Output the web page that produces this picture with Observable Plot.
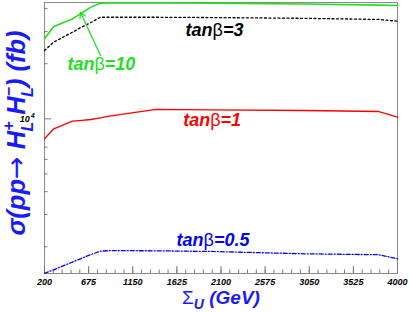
<!DOCTYPE html>
<html><head><meta charset="utf-8">
<script src="https://cdn.jsdelivr.net/npm/d3@7"></script>
<script src="https://cdn.jsdelivr.net/npm/@observablehq/plot@0.6"></script>
<style>body{margin:0;background:#fff} svg{display:block}</style>
</head><body><div id="chart"></div>
<script>
// Σ_U values (GeV)
const sigmaU = [200, 300, 500, 600, 700, 800, 900, 1400, 2000, 3000, 3800, 4000];
// cross sections (fb)
const tb10 = [27350, 31900, 35150, 37770, 40760, 42850, 42900, 42900, 42800, 42400, 41800, 41580];
const tb3  = [23600, 26250, 29720, 31700, 33600, 35880, 35880, 35880, 35750, 35400, 34900, 34140];
const tb1  = [7780, 8818, 9703, 9810, 9912, 10120, 10330, 11260, 11200, 11100, 10960, 10200];
const tb05 = [1432, 1496, 1649, 1730, 1812, 1890, 1905, 1900, 1884, 1830, 1808, 1718];

const seriesNames = ["tanβ=10", "tanβ=3", "tanβ=1", "tanβ=0.5"];
const seriesColors = ["#1fe01f", "#000000", "#ff0000", "#0000ff"];
const seriesDash = [null, "2,2.5", null, "4,2,1,2"];

// label anchor points (data coords)
const labelX = [813, 2030, 2005, 2014];
const labelY = [19930, 30380, 9790, 2163];
// arrow for tanβ=10 label
const arrowFrom = [803, 22180];
const arrowTo = [588, 38100];

const xMajorTicks = [200, 675, 1150, 1625, 2100, 2575, 3050, 3525, 4000];
const xMinorTicks = d3.range(200, 4001, 95);
const yMinorTicks = [2000, 3000, 4000, 5000, 6000, 7000, 20000, 30000, 40000];
const yMajorTicks = [10000];

const allSeries = [tb10, tb3, tb1, tb05];
const font = "'Liberation Sans', Arial, Helvetica, sans-serif";

const lineMarks = allSeries.map((vals, k) => Plot.line(
  sigmaU.map((x, i) => ({x, y: vals[i]})),
  {x: "x", y: "y", stroke: seriesColors[k], strokeWidth: k === 0 ? 1.6 : 1.3,
   strokeDasharray: seriesDash[k]}
));

const labelData = seriesNames.map((t, k) => ({t, x: labelX[k], y: labelY[k], c: seriesColors[k]}));

const chart = Plot.plot({
  width: 409, height: 312,
  marginLeft: 44, marginRight: 12, marginTop: 2, marginBottom: 39,
  style: {background: "#fff", fontFamily: font, overflow: "visible"},
  x: {type: "linear", domain: [200, 4000]},
  y: {type: "log", domain: [1428, 43200]},
  marks: [
    Plot.frame({stroke: "#8a8a8a"}),
    Plot.axisX({ticks: xMinorTicks, tickSize: -3.5, tickFormat: () => "", label: null, stroke: "#777"}),
    Plot.axisX({ticks: xMajorTicks, tickSize: -7, tickFormat: () => "", label: null, stroke: "#777"}),
    Plot.axisX({ticks: xMajorTicks, tickSize: 0, tickPadding: 5, tickFormat: d => String(d), label: null,
      fontSize: 9, fontWeight: "bold", fontStyle: "italic", fill: "#000"}),
    Plot.axisY({ticks: yMinorTicks, tickSize: -3.5, tickFormat: () => "", label: null, stroke: "#777"}),
    Plot.axisY({ticks: yMajorTicks, tickSize: -7, tickFormat: () => "", label: null, stroke: "#777"}),
    Plot.axisY({ticks: yMajorTicks, tickSize: 0, tickPadding: 10, tickFormat: () => "10", label: null,
      fontSize: 9, fontWeight: "bold", fontStyle: "italic", fill: "#000"}),
    ...lineMarks,
    Plot.arrow([{x1: arrowFrom[0], y1: arrowFrom[1], x2: arrowTo[0], y2: arrowTo[1]}],
      {x1: "x1", y1: "y1", x2: "x2", y2: "y2", stroke: seriesColors[0], strokeWidth: 1.3, headLength: 7}),
    Plot.text(labelData, {x: "x", y: "y", text: "t", fill: "c", fontSize: 18, fontWeight: "bold",
      fontStyle: "italic", textAnchor: "middle", lineAnchor: "middle"})
  ]
});

document.getElementById("chart").appendChild(chart);
const svg = d3.select(chart);

svg.selectAll("text").each(function() {
  const el = d3.select(this);
  if (el.selectAll("tspan").size() > 0) return;
  const s = this.textContent;
  if (s.includes("β")) {
    // upright β in labels
    const parts = s.split("β");
    el.text(null);
    el.append("tspan").text(parts[0]);
    el.append("tspan").attr("font-style", "normal").attr("font-weight", "normal").text("β");
    el.append("tspan").text(parts[1]);
  } else if (s === "10") {
    // 10^4 exponent
    el.text(null);
    el.append("tspan").text("10");
    el.append("tspan").attr("font-size", 6.5).attr("dx", 1).attr("dy", -3.5).text("4");
  }
});

// y-axis title
const yt = svg.append("text")
  .attr("transform", "translate(25,133) rotate(-90)")
  .attr("text-anchor", "middle")
  .attr("fill", "#1a1aff")
  .attr("font-family", font)
  .attr("font-size", 25.5)
  .attr("font-weight", "bold")
  .attr("font-style", "italic");
yt.append("tspan").text("σ(pp");
yt.append("tspan").attr("font-style", "normal").attr("font-weight", "normal")
  .attr("font-family", "'DejaVu Sans', sans-serif").attr("font-size", 27).text("→");
yt.append("tspan").text(" H");
yt.append("tspan").attr("font-size", 16).attr("dy", -11).text("+");
yt.append("tspan").attr("font-size", 16).attr("dx", -10).attr("dy", 19).text("L");
yt.append("tspan").attr("dy", -8).text(" H");
yt.append("tspan").attr("font-size", 16).attr("dy", -11).text("−");
yt.append("tspan").attr("font-size", 16).attr("dx", -10).attr("dy", 19).text("L");
yt.append("tspan").attr("dy", -8).text(") (fb)");

// x-axis title
const xt = svg.append("text")
  .attr("x", 221).attr("y", 304)
  .attr("text-anchor", "middle")
  .attr("fill", "#1a1aff")
  .attr("font-family", font)
  .attr("font-size", 19)
  .attr("font-weight", "bold")
  .attr("font-style", "italic");
xt.append("tspan").attr("font-style", "normal").attr("font-weight", "normal").text("Σ");
xt.append("tspan").attr("font-size", 14).attr("dy", 5).text("U");
xt.append("tspan").attr("dy", -5).text(" (GeV)");
</script>
</body></html>
